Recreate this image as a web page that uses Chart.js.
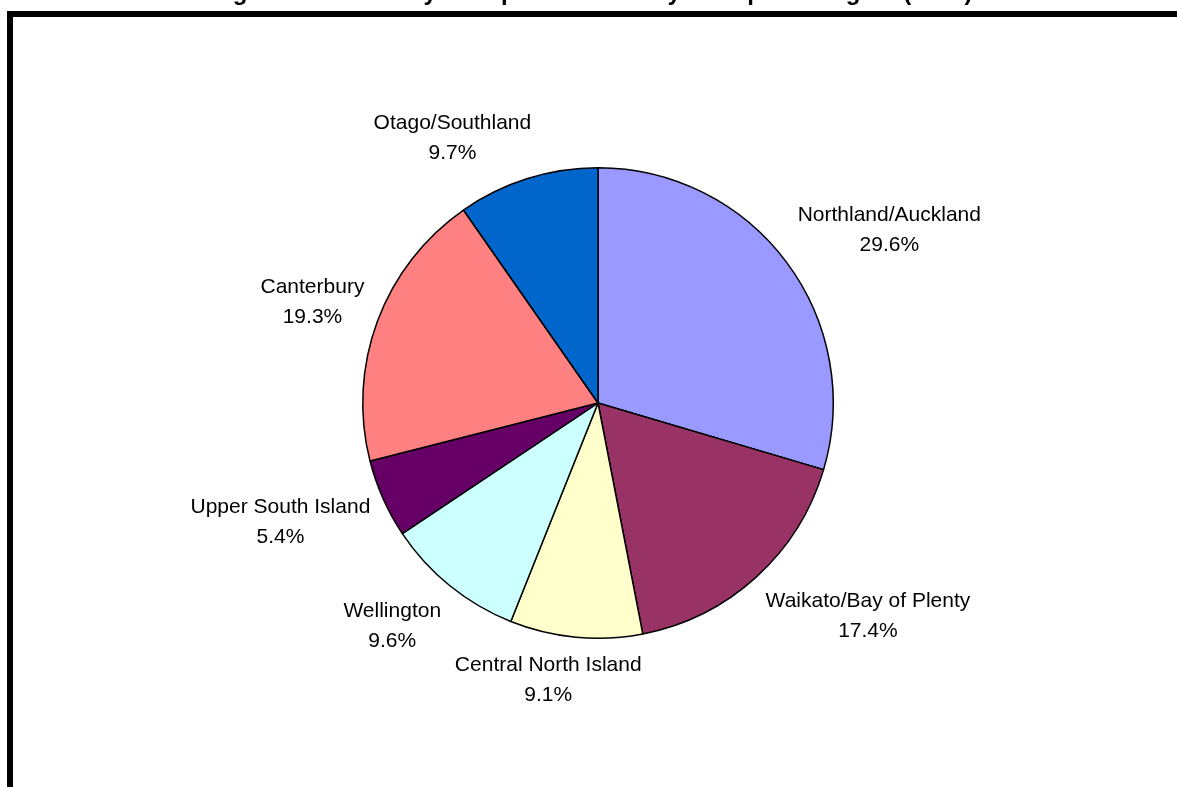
<!DOCTYPE html>
<html>
<head>
<meta charset="utf-8">
<title>Pie by region</title>
<script src="https://cdn.jsdelivr.net/npm/chart.js@4.4.1/dist/chart.umd.min.js"></script>
<style>
  html,body{margin:0;padding:0;background:#fff;overflow:hidden;}
  #wrap{position:relative;width:1177px;height:787px;}
</style>
</head>
<body>
<div id="wrap"><canvas id="pie"></canvas></div>
<script>
'use strict';

/* ── data ── */
const titleText='Percentage of Members by Group and Sector by Workplace Region (2002)';
const regions=['Northland/Auckland','Waikato/Bay of Plenty','Central North Island','Wellington','Upper South Island','Canterbury','Otago/Southland'];
const shares=[29.6,17.4,9.1,9.6,5.4,19.3,9.7];
const sliceColours=['#9999FF','#993366','#FFFFCC','#CCFFFF','#660066','#FF8080','#0066CC'];

/* ── frame + clipped title (title sits mostly above the page, as in the source) ── */
const framePlugin={
  id:'frame',
  beforeDraw(chart){
    const c=chart.ctx;
    c.save();
    c.fillStyle='#fff';
    c.fillRect(0,0,chart.width,chart.height);
    c.lineWidth=6;
    c.strokeStyle='#000';
    c.strokeRect(10,14,1300,900);
    c.fillStyle='#000';
    c.font='bold 24px "Liberation Sans", Arial, sans-serif';
    c.textAlign='center';
    c.textBaseline='alphabetic';
    c.fillText(titleText,552,0);
    c.restore();
  }
};

/* ── outside labels: name + percentage, placed off each slice's mid angle ── */
const labelPlugin={
  id:'sliceLabels',
  afterDatasetsDraw(chart){
    const c=chart.ctx;
    const meta=chart.getDatasetMeta(0);
    const clamp=v=>Math.max(-1,Math.min(1,v));
    c.save();
    c.font='21px "Liberation Sans", Arial, sans-serif';
    c.fillStyle='#000';
    c.textAlign='center';
    c.textBaseline='alphabetic';
    meta.data.forEach((arc,i)=>{
      const p=arc.getProps(['x','y','startAngle','endAngle','outerRadius'],true);
      const mid=(p.startAngle+p.endAngle)/2;
      const r=p.outerRadius+14;
      const ax=p.x+Math.cos(mid)*r, ay=p.y+Math.sin(mid)*r;
      const l1=regions[i], l2=shares[i].toFixed(1)+'%';
      const w=Math.max(c.measureText(l1).width,c.measureText(l2).width);
      const h=56;
      const cx=ax+clamp(3*Math.cos(mid))*w/2;
      const cy=ay+clamp(1.5*Math.sin(mid))*h/2;
      c.fillText(l1,cx,cy-8);
      c.fillText(l2,cx,cy+22);
    });
    c.restore();
  }
};

new Chart(document.getElementById('pie'),{
  type:'pie',
  data:{
    labels:regions,
    datasets:[{
      data:shares,
      backgroundColor:sliceColours,
      borderColor:'#000',
      borderWidth:1.5,
      hoverOffset:0
    }]
  },
  options:{
    responsive:true,maintainAspectRatio:false,
    animation:false,
    layout:{padding:{top:167,bottom:148,left:100,right:81}},
    plugins:{
      legend:{display:false},
      tooltip:{enabled:false}
    }
  },
  plugins:[framePlugin,labelPlugin]
});
</script>
</body>
</html>
